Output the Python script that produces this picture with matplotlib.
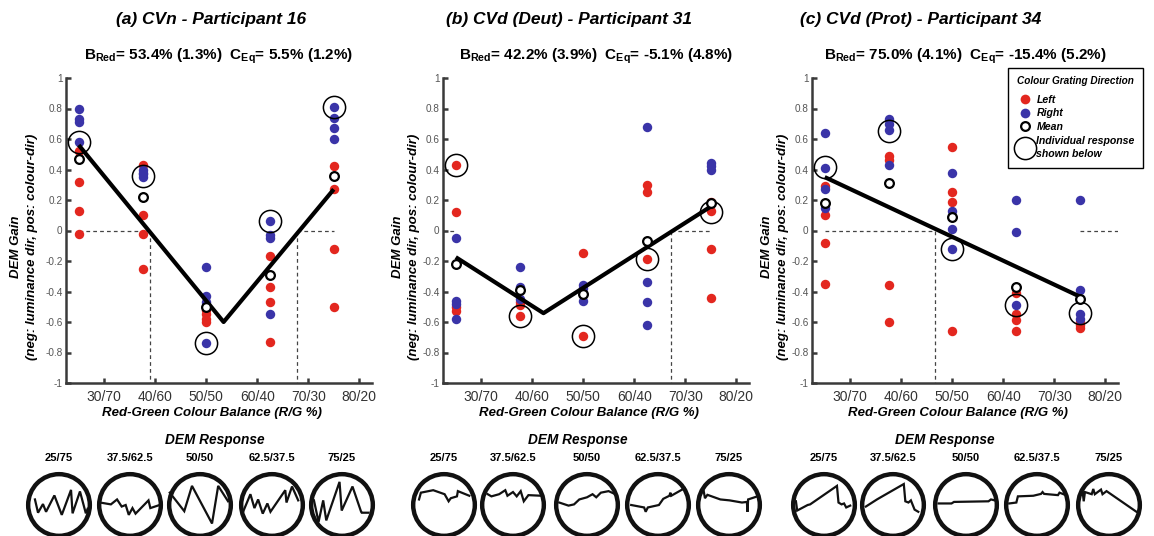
import matplotlib
matplotlib.use('Agg')
import matplotlib.pyplot as plt
from matplotlib.patches import Circle
from matplotlib.lines import Line2D

plt.rcParams['font.family'] = ['Liberation Sans', 'DejaVu Sans']
plt.rcParams['mathtext.fontset'] = 'custom'
plt.rcParams['mathtext.rm'] = 'Liberation Sans:bold'
plt.rcParams['mathtext.bf'] = 'Liberation Sans:bold'
plt.rcParams['mathtext.it'] = 'Liberation Sans:bold:italic'

# ---------------- data ----------------
balance = [25, 37.5, 50, 62.5, 75]
xtick_vals = [30, 40, 50, 60, 70, 80]
xtick_labels = ['30/70', '40/60', '50/50', '60/40', '70/30', '80/20']
ytick_vals = [-1, -0.8, -0.6, -0.4, -0.2, 0, 0.2, 0.4, 0.6, 0.8, 1]
ytick_labels = ['-1', '-0.8', '-0.6', '-0.4', '-0.2', '0', '0.2', '0.4', '0.6', '0.8', '1']
response_labels = ['25/75', '37.5/62.5', '50/50', '62.5/37.5', '75/25']

titles = ['(a) CVn - Participant 16', '(b) CVd (Deut) - Participant 31',
          '(c) CVd (Prot) - Participant 34']
b_red = ['53.4% (1.3%)', '42.2% (3.9%)', '75.0% (4.1%)']
c_eq = ['5.5% (1.2%)', '-5.1% (4.8%)', '-15.4% (5.2%)']

# Panel (a)
a_left = [[0.52, 0.32, 0.13, -0.02], [0.43, 0.10, -0.02, -0.25],
          [-0.52, -0.55, -0.58, -0.60], [-0.17, -0.37, -0.47, -0.73],
          [0.42, 0.27, -0.12, -0.50]]
a_right = [[0.80, 0.73, 0.71, 0.58], [0.40, 0.38, 0.37, 0.35],
           [-0.24, -0.43, -0.47, -0.74], [0.06, -0.03, -0.05, -0.55],
           [0.81, 0.74, 0.67, 0.60]]
a_mean = [0.47, 0.22, -0.50, -0.29, 0.36]
a_highlight = [0.58, 0.36, -0.74, 0.06, 0.81]
a_fit_x = [25, 53.4, 75]
a_fit_y = [0.56, -0.60, 0.27]
a_zero_x = [38.9, 67.8]
a_zero_h = [(25, 38.9), (67.8, 75)]

# Panel (b)
b_left = [[0.43, 0.12, -0.50, -0.53], [-0.47, -0.49, -0.56],
          [-0.15, -0.69], [0.30, 0.25, -0.19],
          [0.19, 0.13, -0.12, -0.44]]
b_right = [[-0.05, -0.46, -0.48, -0.58], [-0.24, -0.37, -0.45],
           [-0.36, -0.38, -0.46], [0.68, -0.34, -0.47, -0.62],
           [0.44, 0.42, 0.40]]
b_mean = [-0.22, -0.39, -0.415, -0.07, 0.18]
b_highlight = [0.43, -0.56, -0.69, -0.19, 0.12]
b_fit_x = [25, 42.2, 75]
b_fit_y = [-0.175, -0.542, 0.157]
b_zero_x = [67.3]
b_zero_h = [(22.5, 25), (67.3, 75)]

# Panel (c)
c_left = [[0.29, 0.10, -0.08, -0.35], [0.49, 0.46, -0.36, -0.60],
          [0.55, 0.25, 0.19, -0.66], [-0.41, -0.55, -0.59, -0.66],
          [-0.60, -0.62, -0.64]]
c_right = [[0.64, 0.41, 0.27, 0.15], [0.73, 0.70, 0.66, 0.43],
           [0.38, 0.13, 0.01, -0.12], [0.20, -0.01, -0.49],
           [0.20, -0.39, -0.55, -0.58]]
c_mean = [0.18, 0.31, 0.09, -0.37, -0.45]
c_highlight = [0.415, 0.65, -0.12, -0.49, -0.54]
c_fit_x = [25, 75]
c_fit_y = [0.35, -0.433]
c_zero_x = [46.7]
c_zero_h = [(25, 46.7), (75, 82.5)]

# DEM response traces (normalised to circle radius)
a_trace_x = [
    [-0.78, -0.68, -0.52, -0.42, -0.15, 0.09, 0.39, 0.44, 0.68, 0.87, 0.93],
    [-0.97, -0.62, -0.42, -0.27, -0.14, -0.04, 0.08, 0.18, 0.60, 0.66, 0.96],
    [-0.98, -0.51, -0.26, 0.39, 0.59, 0.91],
    [-0.95, -0.70, -0.57, -0.45, -0.30, -0.15, -0.05, 0.43, 0.47, 0.65, 0.85],
    [-0.91, -0.76, -0.61, -0.51, -0.08, -0.01, 0.34, 0.62, 0.64, 0.86]]
a_trace_y = [
    [0.18, -0.25, 0.03, -0.22, 0.31, -0.32, 0.49, -0.27, 0.44, -0.27, -0.12],
    [0.08, 0.02, 0.18, -0.05, 0.0, -0.32, -0.10, -0.28, 0.15, -0.10, 0.0],
    [0.40, -0.20, 0.62, -0.60, 0.62, 0.12],
    [-0.25, 0.35, -0.10, 0.18, -0.28, 0.05, -0.22, 0.48, 0.08, 0.60, 0.15],
    [0.15, -0.55, 0.15, -0.50, 0.75, -0.18, 0.60, -0.22, -0.25, -0.25]]
b_trace_x = [
    [-0.81, -0.75, -0.35, 0.02, 0.15, 0.22, 0.42, 0.45, 0.82],
    [-0.82, -0.70, -0.45, -0.25, -0.18, 0.0, 0.12, 0.25, 0.35, 0.50, 0.92],
    [-0.90, -0.60, -0.42, -0.25, 0.0, 0.18, 0.30, 0.45, 0.70, 0.92],
    [-0.87, -0.45, -0.40, -0.33, 0.03, 0.17, 0.37, 0.40, 0.43, 0.87],
    [-0.82, -0.78, -0.70, -0.28, 0.02, 0.42, 0.58, 0.60, 0.62, 0.92]]
b_trace_y = [
    [0.18, 0.40, 0.48, 0.35, 0.12, 0.22, 0.28, 0.45, 0.30],
    [0.35, 0.28, 0.35, 0.48, 0.30, 0.42, 0.28, 0.45, 0.12, 0.32, 0.30],
    [0.08, -0.02, 0.02, 0.18, 0.25, 0.35, 0.25, 0.40, 0.45, 0.35],
    [0.0, -0.08, -0.22, -0.08, 0.0, 0.20, 0.30, 0.40, 0.30, 0.55],
    [0.45, 0.22, 0.33, 0.18, 0.15, 0.08, 0.10, -0.22, 0.18, 0.28]]
c_trace_x = [
    [-0.91, -0.87, -0.53, -0.45, 0.42, 0.47, 0.57, 0.65, 0.72, 0.85],
    [-0.88, -0.52, -0.40, 0.35, 0.40, 0.50, 0.58, 0.70, 0.82],
    [-0.89, -0.47, -0.39, 0.73, 0.81, 0.93],
    [-0.90, -0.67, -0.62, -0.12, 0.13, 0.18, 0.23, 0.68, 0.73, 0.86],
    [-0.86, -0.82, -0.78, -0.56, -0.51, -0.46, -0.26, -0.21, -0.08, 0.89]]
c_trace_y = [
    [0.12, -0.18, 0.0, 0.02, 0.62, 0.08, 0.02, 0.05, -0.08, -0.02],
    [-0.05, 0.18, 0.25, 0.68, 0.12, 0.08, 0.15, -0.15, -0.22],
    [0.05, 0.05, 0.10, 0.12, 0.18, 0.15],
    [0.05, 0.08, 0.28, 0.30, 0.36, 0.42, 0.36, 0.32, 0.40, 0.35],
    [0.48, 0.12, 0.42, 0.35, 0.52, 0.35, 0.50, 0.35, 0.45, -0.22]]

panels = [
    (a_left, a_right, a_mean, a_highlight, a_fit_x, a_fit_y, a_zero_x, a_zero_h, a_trace_x, a_trace_y),
    (b_left, b_right, b_mean, b_highlight, b_fit_x, b_fit_y, b_zero_x, b_zero_h, b_trace_x, b_trace_y),
    (c_left, c_right, c_mean, c_highlight, c_fit_x, c_fit_y, c_zero_x, c_zero_h, c_trace_x, c_trace_y),
]

# ---------------- layout (pixels) ----------------
W, H = 1154, 536
RED = '#E3271F'
BLUE = '#3A34A8'
AXC = '#3a3a3a'

ax_left = [66, 443, 812]
ax_top, ax_w, ax_h = 78, 306, 305
title_x = [211, 569, 921]
ylabel_off = [-42, -37, -37]
circle_cx = [[59, 130, 200, 272, 342], [444, 513, 587, 658, 729],
             [824, 893, 966, 1037, 1109]]
dem_x = [215, 578, 945]
circle_cy = 505

fig = plt.figure(figsize=(W / 100, H / 100), dpi=100)


def px_axes(left, top, width, height):
    return fig.add_axes([left / W, 1 - (top + height) / H, width / W, height / H])


for p, (left, right, mean, hl, fx, fy, zx, zh, tx, ty) in enumerate(panels):
    ax = px_axes(ax_left[p], ax_top, ax_w, ax_h)
    ax.set_xlim(22.5, 82.5)
    ax.set_ylim(-1, 1)
    for s in ['top', 'right']:
        ax.spines[s].set_visible(False)
    for s in ['left', 'bottom']:
        ax.spines[s].set_linewidth(1.8)
        ax.spines[s].set_color(AXC)
    ax.set_xticks(xtick_vals)
    ax.set_xticklabels(xtick_labels)
    ax.set_yticks(ytick_vals)
    ax.set_yticklabels(ytick_labels)
    ax.tick_params(direction='in', length=3.5, width=1.8, color=AXC)
    ax.tick_params(axis='y', labelsize=7.2, labelcolor='#555555', pad=2.5)
    ax.tick_params(axis='x', labelsize=10, labelcolor='#333333', pad=5)

    # dashed zero-crossing guides
    for (x0, x1) in zh:
        ax.plot([x0, x1], [0, 0], color='#444444', lw=0.9, dashes=(3, 2.5), zorder=1)
    for x0 in zx:
        ax.plot([x0, x0], [0, -1], color='#444444', lw=0.9, dashes=(3, 2.5), zorder=1)

    for i, xv in enumerate(balance):
        ax.plot([xv] * len(left[i]), left[i], 'o', color=RED, ms=6.8, mec='none', zorder=2)
        ax.plot([xv] * len(right[i]), right[i], 'o', color=BLUE, ms=6.8, mec='none', zorder=2)

    ax.plot(fx, fy, color='black', lw=3, zorder=4, solid_capstyle='butt')
    ax.plot(balance, hl, 'o', mfc='none', mec='black', ms=16, mew=1.1, zorder=5)
    ax.plot(balance, mean, 'o', mfc='white', mec='black', ms=6.3, mew=1.6, zorder=6)

    ax.set_xlabel('Red-Green Colour Balance (R/G %)', fontsize=9.5, fontweight='bold',
                  fontstyle='italic', va='center')
    ax.xaxis.set_label_coords(0.477, -0.098)
    ax.set_ylabel('DEM Gain\n(neg: luminance dir, pos: colour-dir)', fontsize=9.5,
                  fontweight='bold', fontstyle='italic', va='center', linespacing=1.35)
    ax.yaxis.set_label_coords(ylabel_off[p] / ax_w, 0.446)

    fig.text(title_x[p] / W, 1 - 24 / H, titles[p], ha='center', va='baseline',
             fontsize=12.5, fontweight='bold', fontstyle='italic')
    cx_ax = ax_left[p] + ax_w / 2
    fig.text(cx_ax / W, 1 - 60 / H,
             r'B$_{\mathbf{Red}}$= ' + b_red[p] + r'  C$_{\mathbf{Eq}}$= ' + c_eq[p],
             ha='center', va='baseline', fontsize=11, fontweight='bold')

    if p == 2:
        handles = [
            Line2D([], [], ls='none', marker='o', color=RED, mec='none', ms=7, label='Left'),
            Line2D([], [], ls='none', marker='o', color=BLUE, mec='none', ms=7, label='Right'),
            Line2D([], [], ls='none', marker='o', mfc='white', mec='black', ms=6.3, mew=1.6,
                   label='Mean'),
            Line2D([], [], ls='none', marker='o', mfc='none', mec='black', ms=16, mew=1.1,
                   label='Individual response\nshown below'),
        ]
        leg = fig.legend(handles=handles, loc='upper left',
                         bbox_to_anchor=(1008 / W, 1 - 68 / H),
                         title='Colour Grating Direction', frameon=True, fancybox=False,
                         edgecolor='black', framealpha=1,
                         prop=dict(style='italic', weight='bold', size=7.6),
                         title_fontproperties=dict(style='italic', weight='bold', size=7.2),
                         handletextpad=0.3, labelspacing=0.35, borderpad=0.8,
                         handlelength=1.6, borderaxespad=0)
        leg._legend_box.sep = 6
        for t in leg.get_texts():
            t.set_linespacing(1.45)
        leg.get_frame().set_linewidth(1.0)

    # DEM response strip
    fig.text(dem_x[p] / W, 1 - 444 / H, 'DEM Response', ha='center', va='baseline',
             fontsize=9.8, fontweight='bold', fontstyle='italic')
    for k in range(5):
        cx = circle_cx[p][k]
        fig.text(cx / W, 1 - 461 / H, response_labels[k], ha='center', va='baseline',
                 fontsize=8, fontweight='bold')
        size = 74
        cax = px_axes(cx - size / 2, circle_cy - size / 2, size, size)
        cax.set_xlim(-1.2, 1.2)
        cax.set_ylim(-1.2, 1.2)
        cax.axis('off')
        cax.add_patch(Circle((0, 0), 1, fill=False, lw=3.2, ec='#111111'))
        cax.plot(tx[k], ty[k], color='#111111', lw=1.6, solid_joinstyle='miter')

fig.savefig('out.png', dpi=100)
